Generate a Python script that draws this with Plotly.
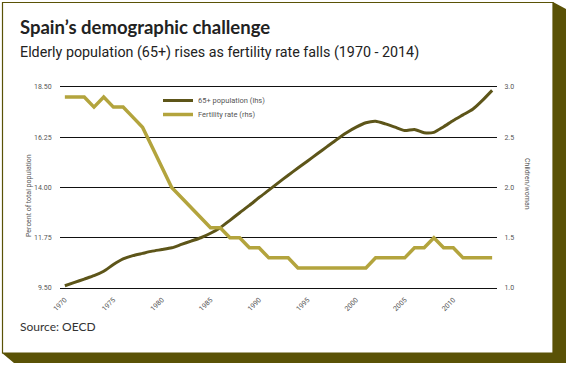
import plotly.graph_objects as go

years = list(range(1970, 2015))
pop65 = [9.6, 9.75, 9.9, 10.05, 10.25, 10.55, 10.8, 10.95, 11.05, 11.15,
         11.22, 11.3, 11.45, 11.6, 11.75, 11.95, 12.2, 12.53, 12.87, 13.2,
         13.55, 13.88, 14.22, 14.55, 14.87, 15.19, 15.51, 15.83, 16.15, 16.45,
         16.7, 16.9, 16.97, 16.85, 16.7, 16.55, 16.6, 16.45, 16.47, 16.72,
         17.0, 17.25, 17.5, 17.9, 18.35]
fertility = [2.9, 2.9, 2.9, 2.8, 2.9, 2.8, 2.8, 2.7, 2.6, 2.4,
             2.2, 2.0, 1.9, 1.8, 1.7, 1.6, 1.6, 1.5, 1.5, 1.4,
             1.4, 1.3, 1.3, 1.3, 1.2, 1.2, 1.2, 1.2, 1.2, 1.2,
             1.2, 1.2, 1.3, 1.3, 1.3, 1.3, 1.4, 1.4, 1.5, 1.4,
             1.4, 1.3, 1.3, 1.3, 1.3]
x_ticks = [1970, 1975, 1980, 1985, 1990, 1995, 2000, 2005, 2010]
left_ticks = [9.5, 11.75, 14.0, 16.25, 18.5]
right_ticks = [1.0, 1.5, 2.0, 2.5, 3.0]

W, H = 568, 366
ML, MR, MT, MB = 60, 71, 87, 78
PW, PH = W - ML - MR, H - MT - MB

def px(x):
    return (x - ML) / PW

def py(y):
    return (H - MB - y) / PH

SMALL = "Roboto, sans-serif"
POP_COL = "#5d5519"
FERT_COL = "#b3a43d"
FRAME = "#5a5206"
LEG_FONT = dict(family=SMALL, size=7.5, color="#555")

fig = go.Figure()
fig.add_trace(go.Scatter(x=years, y=pop65, name="65+ population (lhs)",
                         mode="lines", line=dict(color=POP_COL, width=3, shape="spline", smoothing=0.6),
                         yaxis="y", legend="legend"))
fig.add_trace(go.Scatter(x=years, y=fertility, name="Fertility rate (rhs)",
                         mode="lines", line=dict(color=FERT_COL, width=3.5),
                         yaxis="y2", legend="legend2"))

fig.update_layout(
    width=W, height=H,
    margin=dict(l=ML, r=MR, t=MT, b=MB, autoexpand=False),
    paper_bgcolor="white", plot_bgcolor="white",
    showlegend=True,
    legend=dict(x=px(158), y=py(86), xanchor="left", yanchor="top",
                bgcolor="rgba(0,0,0,0)", font=LEG_FONT, itemwidth=30),
    legend2=dict(x=px(158), y=py(100), xanchor="left", yanchor="top",
                 bgcolor="rgba(0,0,0,0)", font=LEG_FONT, itemwidth=30),
    xaxis=dict(range=[1969.5, 2014.5], tickvals=x_ticks, ticktext=[str(v) for v in x_ticks],
               tickangle=-45, showgrid=False, zeroline=False,
               showline=True, mirror=True, linecolor="#111", linewidth=1.2,
               ticks="outside", ticklen=4, tickcolor="rgba(0,0,0,0)", automargin=False,
               tickfont=dict(family=SMALL, size=7, color="#555")),
    yaxis=dict(range=[9.5, 18.5], tickvals=left_ticks, ticktext=["%.2f" % v for v in left_ticks],
               showgrid=True, gridcolor="#111", gridwidth=1.2, zeroline=False, showline=False,
               ticks="outside", ticklen=6, tickcolor="rgba(0,0,0,0)", automargin=False,
               tickfont=dict(family=SMALL, size=7, color="#555")),
    yaxis2=dict(range=[1.0, 3.0], tickvals=right_ticks, ticktext=["%.1f" % v for v in right_ticks],
                overlaying="y", side="right", showgrid=False, zeroline=False, showline=False,
                ticks="outside", ticklen=5, tickcolor="rgba(0,0,0,0)", automargin=False,
                tickfont=dict(family=SMALL, size=7, color="#555")),
)

# card frame
fig.add_shape(type="path", xref="paper", yref="paper",
              path=f"M {px(553)},{py(2)} L {px(566)},{py(9)} L {px(566)},{py(363)} L {px(14)},{py(363)} L {px(2)},{py(353)} L {px(553)},{py(353)} Z",
              fillcolor=FRAME, line=dict(width=0), layer="above")
fig.add_shape(type="rect", xref="paper", yref="paper",
              x0=px(2.5), x1=px(553), y0=py(2.5), y1=py(353),
              line=dict(color=FRAME, width=1.2), fillcolor="rgba(0,0,0,0)", layer="above")

ann = [
    dict(text="<b>Spain’s demographic challenge</b>", x=px(18), y=py(27),
         font=dict(family="Lato, sans-serif", size=18.5, color="#222")),
    dict(text="Elderly population (65+) rises as fertility rate falls (1970 - 2014)", x=px(18), y=py(52),
         font=dict(family="Roboto, sans-serif", size=14.3, color="#222")),
    dict(text="Source: OECD", x=px(18), y=py(326),
         font=dict(family="Lato, sans-serif", size=12, color="#333")),
]
for a in ann:
    fig.add_annotation(xref="paper", yref="paper", xanchor="left", yanchor="middle",
                       showarrow=False, **a)

fig.add_annotation(text="Percent of total population", xref="paper", yref="paper",
                   x=px(29), y=py(196), textangle=-90, showarrow=False,
                   xanchor="center", yanchor="middle",
                   font=dict(family=SMALL, size=7, color="#555"))
fig.add_annotation(text="Children/woman", xref="paper", yref="paper",
                   x=px(527), y=py(184), textangle=90, showarrow=False,
                   xanchor="center", yanchor="middle",
                   font=dict(family=SMALL, size=7, color="#555"))

fig.write_html("out.html", config={"displayModeBar": False},
               post_script="document.body.style.margin='0';")
